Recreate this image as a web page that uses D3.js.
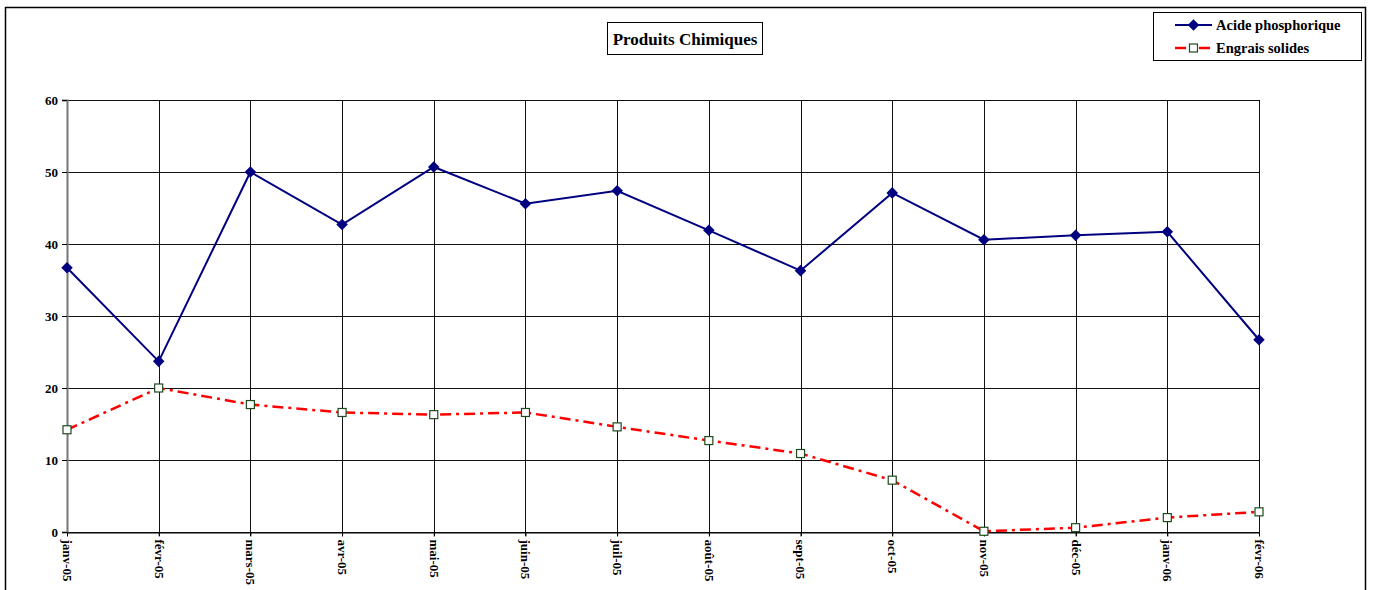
<!DOCTYPE html>
<html><head><meta charset="utf-8">
<script src="https://cdn.jsdelivr.net/npm/d3@7"></script>
<style>
html,body{margin:0;padding:0;background:#fff;}
text{font-family:"Liberation Serif","Times New Roman",serif;font-weight:bold;}
</style></head>
<body><svg id="c" width="1373" height="590"></svg>
<script>
const categories = ["janv-05","févr-05","mars-05","avr-05","mai-05","juin-05","juil-05","août-05","sept-05","oct-05","nov-05","déc-05","janv-06","févr-06"];
const acidePhosphorique = [36.7,23.7,50.0,42.7,50.7,45.6,47.4,41.9,36.3,47.1,40.6,41.2,41.7,26.7];
const engraisSolides = [14.2,20.0,17.7,16.6,16.3,16.6,14.6,12.7,10.9,7.2,0.1,0.6,2.0,2.8];
const yTicks = [0,10,20,30,40,50,60];
const seriesNames = ["Acide phosphorique","Engrais solides"];
const title = "Produits Chimiques";

const svg = d3.select("#c");
svg.append("rect").attr("x",5.5).attr("y",7.5).attr("width",1360).attr("height",600)
  .attr("fill","#fff").attr("stroke","#000").attr("stroke-width",1.5);

const x = d3.scalePoint().domain(categories).range([67,1259]);
const y = d3.scaleLinear().domain([0,60]).range([532,100]);

const g = svg.append("g");
g.selectAll(".hg").data(yTicks).enter().append("line")
  .attr("x1",67).attr("x2",1259).attr("y1",d=>y(d)+0.5).attr("y2",d=>y(d)+0.5)
  .attr("stroke","#111").attr("stroke-width",1);
g.selectAll(".vg").data(categories).enter().append("line")
  .attr("x1",d=>Math.round(x(d))+0.5).attr("x2",d=>Math.round(x(d))+0.5)
  .attr("y1",100).attr("y2",536).attr("stroke","#111").attr("stroke-width",1);

const ya = svg.append("g").attr("transform","translate(67,0)")
  .call(d3.axisLeft(y).tickValues(yTicks).tickSize(5).tickPadding(4));
ya.attr("font-size",13);
ya.select(".domain").attr("stroke","#777").attr("stroke-width",2);
ya.selectAll("line").attr("stroke","#000");
ya.selectAll("text").attr("font-size",13).attr("fill","#000")
  .style("font-family","'Liberation Serif',serif").style("font-weight","bold");

const xa = svg.append("g").attr("transform","translate(0,532.5)")
  .call(d3.axisBottom(x).tickSize(4).tickSizeOuter(0));
xa.attr("font-size",13);
xa.select(".domain").attr("stroke","#000");
xa.selectAll("line").attr("stroke","#000");
xa.selectAll("text").attr("font-size",13).attr("fill","#000")
  .style("font-family","'Liberation Serif',serif").style("font-weight","bold")
  .attr("transform","rotate(90)").attr("text-anchor","start")
  .attr("x",7).attr("y",0).attr("dy","0.35em");

const line = d3.line().x((d,i)=>x(categories[i])).y(d=>y(d));
svg.append("path").datum(acidePhosphorique).attr("d",line)
  .attr("fill","none").attr("stroke","#000080").attr("stroke-width",2);
svg.append("path").datum(engraisSolides).attr("d",line)
  .attr("fill","none").attr("stroke","#ff0000").attr("stroke-width",2.5)
  .attr("stroke-dasharray","11,5,3,5");

const diamond = d3.symbol().type(d3.symbolDiamond2).size(85);
svg.selectAll(".m1").data(acidePhosphorique).enter().append("path")
  .attr("d",diamond).attr("transform",(d,i)=>`translate(${x(categories[i])},${y(d)})`)
  .attr("fill","#000080");
svg.selectAll(".m2").data(engraisSolides).enter().append("rect")
  .attr("x",(d,i)=>x(categories[i])-4).attr("y",d=>y(d)-4)
  .attr("width",8).attr("height",8).attr("fill","#fff").attr("stroke","#1f4a1f").attr("stroke-width",1.2);

const tg = svg.append("g");
tg.append("rect").attr("x",607.5).attr("y",22.5).attr("width",155).attr("height",32)
  .attr("fill","#fff").attr("stroke","#000").attr("stroke-width",1);
tg.append("text").attr("x",685).attr("y",44.5).attr("text-anchor","middle")
  .attr("font-size",17).text(title);

const lg = svg.append("g");
lg.append("rect").attr("x",1153.5).attr("y",12.5).attr("width",208).attr("height",48)
  .attr("fill","#fff").attr("stroke","#000").attr("stroke-width",1);
const ly = [25,48];
lg.append("line").attr("x1",1175).attr("x2",1212).attr("y1",ly[0]).attr("y2",ly[0])
  .attr("stroke","#000080").attr("stroke-width",2);
lg.append("path").attr("d",diamond).attr("transform",`translate(1193.5,${ly[0]})`).attr("fill","#000080");
lg.append("line").attr("x1",1175).attr("x2",1212).attr("y1",ly[1]).attr("y2",ly[1])
  .attr("stroke","#ff0000").attr("stroke-width",2.5).attr("stroke-dasharray","11,5,3,5");
lg.append("rect").attr("x",1189.5).attr("y",ly[1]-4).attr("width",8).attr("height",8)
  .attr("fill","#fff").attr("stroke","#1f4a1f").attr("stroke-width",1.2);
lg.selectAll(".lt").data(seriesNames).enter().append("text")
  .attr("x",1216).attr("y",(d,i)=>ly[i]+5).attr("font-size",14.5).text(d=>d);
</script></body></html>
